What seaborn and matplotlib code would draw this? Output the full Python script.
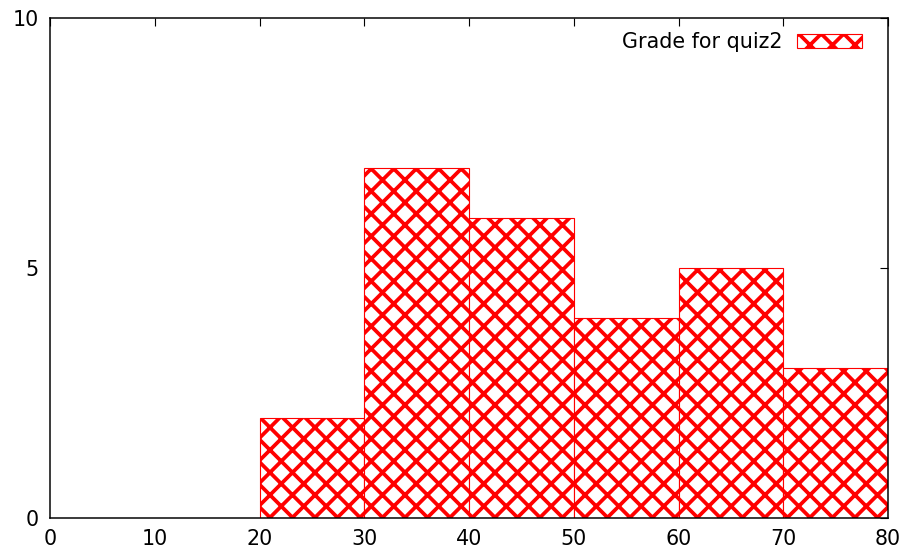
import numpy as np
import matplotlib
matplotlib.use("Agg")
import matplotlib.pyplot as plt
import seaborn as sns

# histogram bins
bin_edges = [20, 30, 40, 50, 60, 70, 80]
bin_counts = [2, 7, 6, 4, 5, 3]
bin_centers = [(a + b) / 2 for a, b in zip(bin_edges[:-1], bin_edges[1:])]

sns.set_style("white")
plt.rcParams["font.family"] = ["DejaVu Sans"]
plt.rcParams["text.color"] = "black"
plt.rcParams["hatch.color"] = "red"
plt.rcParams["hatch.linewidth"] = 2.0

fig = plt.figure(figsize=(909 / 135, 552 / 135), dpi=135)
ax = fig.add_axes([50 / 909, 34 / 552, 838 / 909, 500 / 552])

sns.histplot(x=bin_centers, weights=bin_counts, bins=bin_edges, ax=ax,
             color="red", facecolor="white", edgecolor="red", linewidth=0.6,
             alpha=1, hatch="xx", label="Grade for quiz2")

ax.set_xlim(0, 80)
ax.set_ylim(0, 10)
ax.set_xticks(range(0, 81, 10))
ax.set_yticks([0, 5, 10])
ax.set_xlabel("")
ax.set_ylabel("")
ax.tick_params(direction="in", length=4.5, width=0.6, labelsize=11,
               top=True, right=True, colors="black")
ax.tick_params(axis="x", pad=6)
ax.tick_params(axis="y", pad=6)
for s in ax.spines.values():
    s.set_linewidth(0.8)
    s.set_color("black")

leg = ax.legend(loc="upper right", bbox_to_anchor=(0.9865, 1.0),
                frameon=False, markerfirst=False, fontsize=11,
                handlelength=3.15, handleheight=0.7, handletextpad=0.7,
                borderaxespad=0.3)
for t in leg.get_texts():
    t.set_color("black")

fig.savefig("out.png", dpi=135)
